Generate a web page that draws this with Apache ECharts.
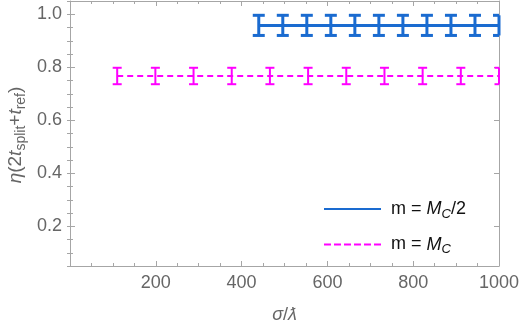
<!DOCTYPE html>
<html><head><meta charset="utf-8">
<script src="https://cdn.jsdelivr.net/npm/echarts@6/dist/echarts.min.js"></script>
<style>html,body{margin:0;padding:0;background:#fff}#c{width:523px;height:330px}</style>
</head><body><div id="c"></div>
<script>
// Data
const blueX = [440, 496, 552, 608, 664, 720, 776, 832, 888, 944, 1000];
const blueY = [0.958, 0.958, 0.958, 0.958, 0.958, 0.958, 0.958, 0.958, 0.958, 0.958, 0.958];
const blueErr = [0.038, 0.038, 0.038, 0.038, 0.038, 0.038, 0.038, 0.038, 0.038, 0.038, 0.038];
const magX = [110, 199, 288, 377, 466, 555, 644, 733, 822, 911, 1000];
const magY = [0.767, 0.767, 0.767, 0.767, 0.767, 0.767, 0.767, 0.767, 0.767, 0.767, 0.767];
const magErr = [0.031, 0.031, 0.031, 0.031, 0.031, 0.031, 0.031, 0.031, 0.031, 0.031, 0.031];
const yMajor = [0.2, 0.4, 0.6, 0.8, 1.0];
const xLabels = [200, 400, 600, 800, 1000];
const seriesNames = ['m = M_C/2', 'm = M_C'];

const BLUE = '#1a6bd0', MAG = '#ff00ff', FRAME = '#a6a6a6', TXT = '#666666';
const FONT = 'Liberation Sans';

function zip3(a, b, c) { return a.map((v, i) => [v, b[i], c[i]]); }

function errRender(halfCap, width, color) {
  return function (params, api) {
    const cs = params.coordSys;
    const x = api.value(0), y = api.value(1), e = api.value(2);
    const t = api.coord([x, y + e]), b = api.coord([x, y - e]);
    const xl = Math.max(cs.x, t[0] - halfCap), xr = Math.min(cs.x + cs.width, t[0] + halfCap);
    const st = { stroke: color, lineWidth: width };
    return { type: 'group', children: [
      { type: 'line', shape: { x1: t[0], y1: t[1], x2: b[0], y2: b[1] }, style: st },
      { type: 'line', shape: { x1: xl, y1: t[1], x2: xr, y2: t[1] }, style: st },
      { type: 'line', shape: { x1: xl, y1: b[1], x2: xr, y2: b[1] }, style: st }
    ]};
  };
}

const grid = { left: 70, right: 24, top: 1, bottom: 64 };
const yRange = { min: 0.05, max: 1.05 };

function yAxisMinor(pos) {
  return { type: 'value', position: pos, ...yRange, interval: 0.05,
    axisLine: { show: false },
    axisTick: { show: true, inside: true, length: 3, lineStyle: { color: FRAME } },
    axisLabel: { show: false }, splitLine: { show: false } };
}
function yAxisMajor(pos, labels) {
  return { type: 'value', position: pos, ...yRange,
    axisLine: { show: true, onZero: false, lineStyle: { color: FRAME, width: 1 } },
    axisTick: { show: true, inside: true, length: 5, customValues: yMajor, lineStyle: { color: FRAME } },
    axisLabel: { show: labels, customValues: yMajor, color: TXT, fontSize: 18, fontFamily: FONT, margin: 8,
      formatter: v => v.toFixed(1) },
    splitLine: { show: false } };
}
function xAxis(pos, labels) {
  return { type: 'value', position: pos, min: 0, max: 1000, interval: 200,
    axisLine: { show: true, onZero: false, lineStyle: { color: FRAME, width: 1 } },
    axisTick: { show: true, inside: true, length: 5, lineStyle: { color: FRAME } },
    minorTick: { show: true, splitNumber: 4, length: 3, lineStyle: { color: FRAME } },
    axisLabel: { show: labels, color: TXT, fontSize: 18, fontFamily: FONT, margin: 8,
      formatter: v => (xLabels.indexOf(v) >= 0 ? String(v) : '') },
    splitLine: { show: false }, minorSplitLine: { show: false },
    name: labels ? '{i|σ}/{i|ƛ}' : '', nameLocation: 'middle', nameGap: 40,
    nameTextStyle: { color: TXT, fontSize: 18, fontFamily: FONT,
      rich: { i: { fontStyle: 'italic', fontSize: 18, fontFamily: FONT, color: TXT } } } };
}

const chart = echarts.init(document.getElementById('c'), null, { renderer: 'canvas' });
chart.setOption({
  animation: false,
  grid: grid,
  xAxis: [xAxis('bottom', true), xAxis('top', false)],
  yAxis: [yAxisMajor('left', true), yAxisMinor('left'), yAxisMajor('right', false), yAxisMinor('right')],
  graphic: [{
    type: 'text', x: 16, y: 135, rotation: Math.PI / 2,
    style: {
      text: '{i|η}(2{i|t}{sub|split}+{i|t}{sub|ref})',
      align: 'center', verticalAlign: 'middle',
      fill: TXT, fontSize: 19, fontFamily: FONT,
      rich: { i: { fontStyle: 'italic', fontSize: 19, fontFamily: FONT, fill: TXT },
              sub: { fontSize: 14, fontFamily: FONT, fill: TXT, padding: [10, 0, 0, 0] } }
    }
  }],
  legend: {
    data: [{ name: seriesNames[0] }, { name: seriesNames[1], lineStyle: { type: [7, 3] } }],
    orient: 'vertical', left: 323, top: 200, padding: 0,
    itemWidth: 57, itemHeight: 20, itemGap: 15,
    itemStyle: { opacity: 0 },
    textStyle: { color: '#111', fontSize: 18, fontFamily: FONT, padding: [0, 0, 0, 5],
      rich: { i: { fontStyle: 'italic', fontSize: 18, fontFamily: FONT, color: '#111' },
              sub: { fontSize: 13, fontStyle: 'italic', fontFamily: FONT, color: '#111', padding: [10, 0, 0, 0] } } },
    formatter: n => n === seriesNames[0] ? 'm = {i|M}{sub|C}/2' : 'm = {i|M}{sub|C}'
  },
  series: [
    { name: seriesNames[0], type: 'line', xAxisIndex: 0, yAxisIndex: 0,
      data: blueX.map((x, i) => [x, blueY[i]]), symbol: 'none',
      lineStyle: { color: BLUE, width: 3 }, itemStyle: { color: BLUE }, z: 3 },
    { name: 'blueErr', type: 'custom', xAxisIndex: 0, yAxisIndex: 0,
      data: zip3(blueX, blueY, blueErr), renderItem: errRender(6, 3, BLUE), z: 4 },
    { name: seriesNames[1], type: 'line', xAxisIndex: 0, yAxisIndex: 0,
      data: magX.map((x, i) => [x, magY[i]]), symbol: 'none',
      lineStyle: { color: MAG, width: 2, type: [6, 4] }, itemStyle: { color: MAG }, z: 3 },
    { name: 'magErr', type: 'custom', xAxisIndex: 0, yAxisIndex: 0,
      data: zip3(magX, magY, magErr), renderItem: errRender(4.5, 2, MAG), z: 4 }
  ]
});
</script></body></html>
